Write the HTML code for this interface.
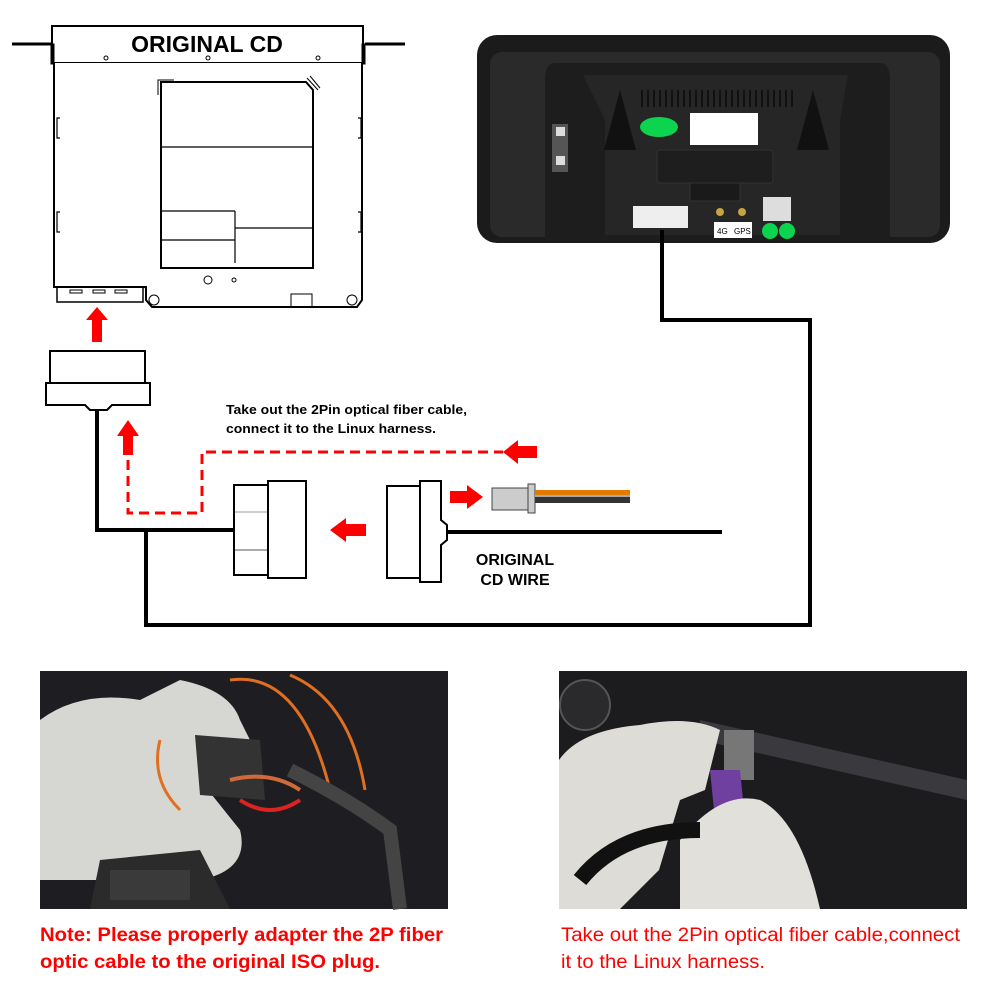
<!DOCTYPE html>
<html><head><meta charset="utf-8"><style>
html,body{margin:0;padding:0;background:#fff;}
svg{display:block;font-family:"Liberation Sans",Arial,sans-serif;}
</style></head><body>
<svg width="1000" height="1000" viewBox="0 0 1000 1000" xmlns="http://www.w3.org/2000/svg">
<rect width="1000" height="1000" fill="#fff"/>
<g fill="none" stroke="#000">
<line x1="12" y1="44" x2="52" y2="44" stroke-width="3"/>
<line x1="365" y1="44" x2="405" y2="44" stroke-width="3"/>
<rect x="52" y="26" width="311" height="37" fill="#fff" stroke-width="2"/>
<rect x="51" y="44" width="3" height="20" fill="#000"/>
<rect x="362" y="44" width="3" height="20" fill="#000"/>
<path d="M54 63 L54 287 L146 287 L146 300 L152 307 L357 307 L362 300 L362 63" stroke-width="2" fill="#fff"/>
<path d="M57 288 L57 302 L143 302 L143 288" stroke-width="1.5"/>
<path d="M70 290 h12 v3 h-12z M93 290 h12 v3 h-12z M115 290 h12 v3 h-12z" stroke-width="1"/>
<path d="M161 82 L306 82 L313 90 L313 268 L161 268 Z" stroke-width="2"/>
<line x1="161" y1="147" x2="313" y2="147" stroke-width="1.2"/>
<line x1="161" y1="211" x2="235" y2="211" stroke-width="1.2"/>
<line x1="161" y1="240" x2="235" y2="240" stroke-width="1.2"/>
<line x1="235" y1="228" x2="312" y2="228" stroke-width="1.2"/>
<line x1="235" y1="211" x2="235" y2="263" stroke-width="1.2"/>
<path d="M158 95 V80 H174" stroke-width="1"/>
<path d="M307 78 L318 90 M310 76 L320 88" stroke-width="1"/>
<circle cx="208" cy="280" r="4" stroke-width="1"/>
<circle cx="234" cy="280" r="2" stroke-width="1"/>
<circle cx="106" cy="58" r="2" stroke-width="1"/>
<circle cx="208" cy="58" r="2" stroke-width="1"/>
<circle cx="318" cy="58" r="2" stroke-width="1"/>
<circle cx="154" cy="300" r="5" stroke-width="1"/>
<circle cx="352" cy="300" r="5" stroke-width="1"/>
<path d="M291 306 V294 H312 V306" stroke-width="1"/>
<path d="M60 118 h-3 v20 h3 M60 212 h-3 v20 h3 M358 118 h3 v20 h-3 M358 212 h3 v20 h-3" stroke-width="1.2"/>
</g>
<text x="207" y="52" font-size="23" font-weight="bold" text-anchor="middle" fill="#000">ORIGINAL CD</text>
<rect x="477" y="35" width="473" height="208" rx="20" fill="#1b1b1b"/>
<rect x="490" y="52" width="450" height="185" rx="12" fill="#2a2a2a"/>
<path d="M545 63 H880 Q890 63 890 80 V240 H545 V80 Q545 63 555 63Z" fill="#1d1d1d"/>
<path d="M583 75 H848 L840 120 V235 H605 V120 Z" fill="#262626"/>
<path d="M604 150 L620 90 L636 150Z M797 150 L813 90 L829 150Z" fill="#111"/>
<g stroke="#111" stroke-width="2">
<path d="M642 90v17M648 90v17M654 90v17M660 90v17M666 90v17M672 90v17M678 90v17M684 90v17M690 90v17M696 90v17M702 90v17M708 90v17M714 90v17M720 90v17M726 90v17M732 90v17M738 90v17M744 90v17M750 90v17M756 90v17M762 90v17M768 90v17M774 90v17M780 90v17M786 90v17M792 90v17"/>
</g>
<ellipse cx="659" cy="127" rx="19" ry="10" fill="#0cd44e"/>
<rect x="690" y="113" width="68" height="32" fill="#fff"/>
<rect x="657" y="150" width="116" height="33" rx="3" fill="#1e1e1e" stroke="#333"/>
<rect x="552" y="124" width="16" height="48" fill="#555"/>
<rect x="556" y="127" width="9" height="9" fill="#ddd"/><rect x="556" y="156" width="9" height="9" fill="#ddd"/>
<rect x="690" y="183" width="50" height="18" fill="#1a1a1a" stroke="#333"/>
<rect x="633" y="206" width="55" height="22" fill="#eee"/>
<rect x="714" y="222" width="38" height="16" fill="#fff"/>
<text x="717" y="234" font-size="8" fill="#000">4G</text><text x="734" y="234" font-size="8" fill="#000">GPS</text>
<circle cx="720" cy="212" r="4" fill="#c9a243"/><circle cx="742" cy="212" r="4" fill="#c9a243"/>
<rect x="763" y="197" width="28" height="24" fill="#ddd"/>
<circle cx="770" cy="231" r="8" fill="#0cd44e"/><circle cx="787" cy="231" r="8" fill="#0cd44e"/>
<g fill="none" stroke="#000" stroke-width="4">
<path d="M662 230 V320 H810 V625 H146 V530"/>
<path d="M97 407 V530 H234"/>
<line x1="442" y1="532" x2="722" y2="532"/>
</g>
<g stroke="#000" stroke-width="2" fill="#fff">
<rect x="50" y="351" width="95" height="32"/>
<path d="M46 383 H150 V405 H112 L107 410 H90 L85 405 H46Z"/>
</g>
<path d="M128 460 V513 H202 V452 H503" fill="none" stroke="#f00" stroke-width="3" stroke-dasharray="10,6"/>
<g fill="#f00">
<path d="M97 307 L108 320 H102 V342 H92 V320 H86Z"/>
<path d="M128 420 L139 436 H133 V455 H123 V436 H117Z"/>
<path d="M503 452 L518 440 V446 H537 V458 H518 V464Z"/>
<path d="M330 530 L346 518 V524 H366 V536 H346 V542Z"/>
<path d="M483 497 L467 485 V491 H450 V503 H467 V509Z"/>
</g>
<g stroke="#000" stroke-width="2" fill="#fff">
<rect x="234" y="485" width="34" height="90"/>
<rect x="268" y="481" width="38" height="97"/>
<rect x="387" y="486" width="33" height="92"/>
<path d="M420 481 H441 V520 L447 525 V540 L441 545 V582 H420Z"/>
</g>
<line x1="235" y1="512" x2="267" y2="512" stroke="#999" stroke-width="1"/>
<line x1="235" y1="550" x2="267" y2="550" stroke="#aaa" stroke-width="2"/>
<rect x="492" y="488" width="36" height="22" fill="#ccc" stroke="#444"/>
<rect x="528" y="484" width="7" height="29" fill="#ccc" stroke="#444"/>
<rect x="535" y="490" width="95" height="5" fill="#e07b00"/>
<rect x="535" y="495" width="95" height="2" fill="#aaa"/>
<rect x="535" y="497" width="95" height="6" fill="#333"/>
<g font-weight="bold" fill="#000">
<text x="226" y="414" font-size="13" textLength="241" lengthAdjust="spacingAndGlyphs">Take out the 2Pin optical fiber cable,</text>
<text x="226" y="433" font-size="13" textLength="210" lengthAdjust="spacingAndGlyphs">connect it to the Linux harness.</text>
<text x="515" y="565" font-size="16" text-anchor="middle">ORIGINAL</text>
<text x="515" y="585" font-size="16" text-anchor="middle">CD WIRE</text>
</g>
<rect x="40" y="671" width="408" height="238" fill="#1e1e22"/>
<path d="M40 720 Q80 690 140 700 L180 680 Q230 690 240 720 L260 760 L200 780 L240 830 Q250 870 200 880 L40 880Z" fill="#d6d6d2"/>
<path d="M100 860 L200 850 L230 909 L90 909Z" fill="#2b2b2b"/>
<rect x="110" y="870" width="80" height="30" fill="#3a3a3a"/>
<path d="M195 735 L260 740 L265 800 L200 795Z" fill="#333"/>
<path d="M230 680 Q300 670 330 790" stroke="#e07020" stroke-width="3" fill="none"/>
<path d="M290 675 Q350 700 365 790" stroke="#e07020" stroke-width="3" fill="none"/>
<path d="M160 740 Q150 780 180 810" stroke="#e07020" stroke-width="3" fill="none"/>
<path d="M230 780 Q270 770 300 790" stroke="#d06a3a" stroke-width="4" fill="none"/>
<path d="M240 800 Q270 820 300 800" stroke="#d22" stroke-width="4" fill="none"/>
<path d="M290 770 Q350 800 390 830 L400 909" stroke="#444" stroke-width="14" fill="none"/>
<rect x="559" y="671" width="408" height="238" fill="#1c1c1e"/>
<path d="M700 720 L967 780 V800 L700 740Z" fill="#3a3a3e"/>
<circle cx="585" cy="705" r="25" fill="#2a2a2c" stroke="#555" stroke-width="2"/>
<path d="M559 760 Q580 730 640 725 Q690 715 720 730 L705 790 L680 800 L659 870 L620 909 L559 909Z" fill="#dedcd6"/>
<rect x="724" y="730" width="30" height="50" fill="#777"/>
<path d="M710 770 L740 770 L745 820 L715 820Z" fill="#7040a0"/>
<path d="M680 840 Q720 790 760 800 Q800 820 820 909 L680 909Z" fill="#e2e0da"/>
<path d="M580 880 Q620 830 700 830" stroke="#111" stroke-width="16" fill="none"/>
<g font-size="19" fill="#f00">
<text x="40" y="941" font-weight="bold" textLength="403" lengthAdjust="spacingAndGlyphs">Note: Please properly adapter the 2P fiber</text>
<text x="40" y="968" font-weight="bold" textLength="340" lengthAdjust="spacingAndGlyphs">optic cable to the original ISO plug.</text>
<text x="561" y="941" textLength="399" lengthAdjust="spacingAndGlyphs">Take out the 2Pin optical fiber cable,connect</text>
<text x="561" y="968" textLength="204" lengthAdjust="spacingAndGlyphs">it to the Linux harness.</text>
</g>
</svg>
</body></html>
